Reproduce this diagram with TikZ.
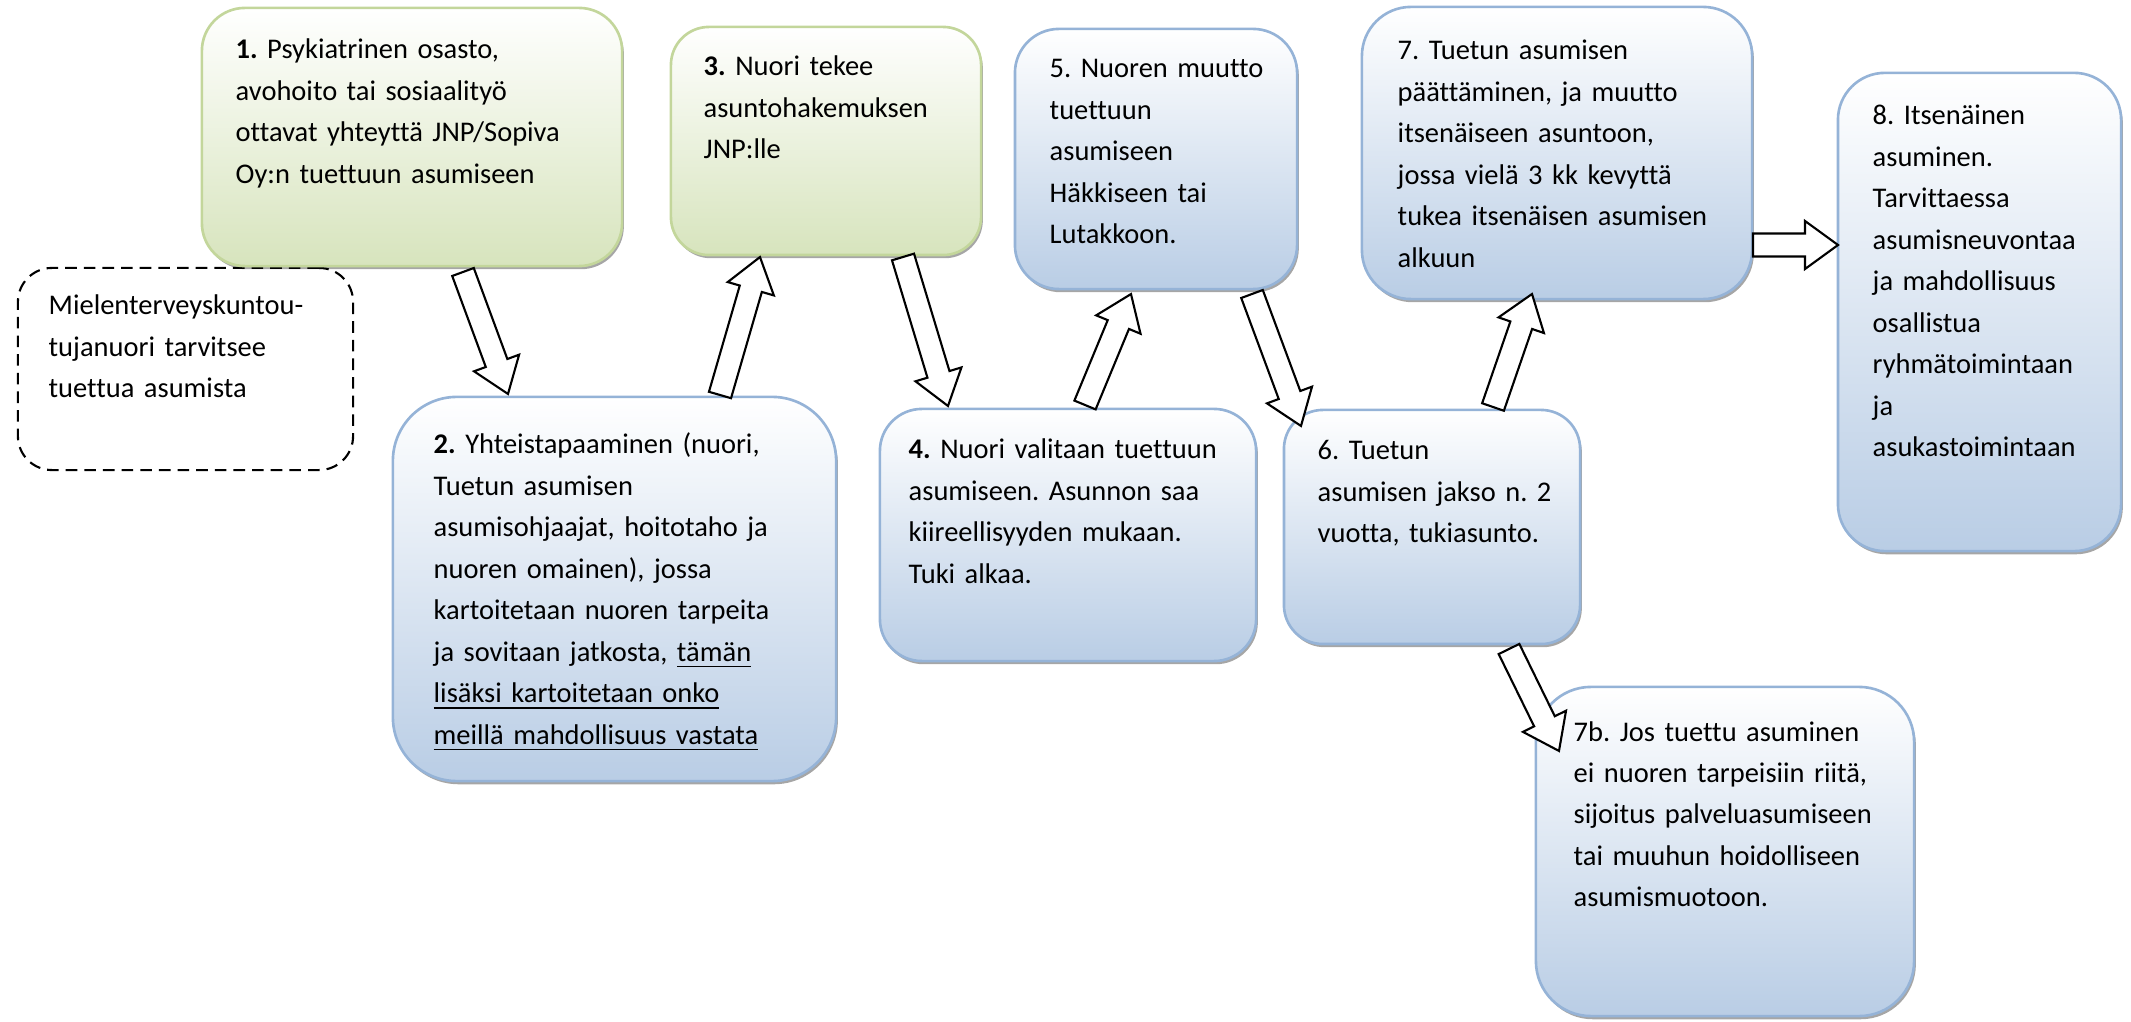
\documentclass[tikz,border=0pt]{standalone}
\usepackage{fontspec}
\setmainfont{Carlito}[Ligatures=NoCommon]
\usetikzlibrary{shadows,calc}
\definecolor{bluebot}{HTML}{B9CDE5}
\definecolor{blueline}{HTML}{95B3D7}
\definecolor{greenbot}{HTML}{D7E4BD}
\definecolor{greenline}{HTML}{C3D69B}
\newcommand\ulin[1]{\underline{#1}}
\frenchspacing
\tikzset{
 boxbase/.style={rectangle, line width=0.75pt, inner sep=0pt,
   drop shadow={shadow xshift=0.5pt, shadow yshift=-0.9pt, opacity=0.35, fill=black}},
 bluebox/.style={boxbase, draw=blueline, top color=white, bottom color=bluebot},
 greenbox/.style={boxbase, draw=greenline, top color=white, bottom color=greenbot},
 dashbox/.style={rectangle, draw=black, line width=0.6pt, dash pattern=on 3.3pt off 2pt, fill=white, inner sep=0pt},
 txt/.style={anchor=base west, inner sep=0pt, align=left, text width=6cm,
   font=\frenchspacing\fontsize{8.1pt}{11.8pt}\selectfont},
 barrow/.style={draw=black, fill=white, line width=0.6pt, line join=miter},
}
\newcommand\blockarrow[2]{%
  \path let \p1=(#1), \p2=(#2) in \pgfextra{%
    \pgfmathsetmacro\baang{atan2(\y2-\y1,\x2-\x1)}%
    \pgfmathsetmacro\balen{veclen(\x2-\x1,\y2-\y1)}%
    \pgfmathsetmacro\bahb{\balen-9.39}%
    \xdef\baang{\baang}\xdef\bahb{\bahb}\xdef\balen{\balen}};
  \begin{scope}[shift={(#1)}, rotate=\baang]
    \draw[barrow] (0pt,-3.27pt) -- (\bahb pt,-3.27pt) -- (\bahb pt,-6.83pt)
      -- (\balen pt,0pt) -- (\bahb pt,6.83pt) -- (\bahb pt,3.27pt) -- (0pt,3.27pt) -- cycle;
  \end{scope}}
\begin{document}
\begin{tikzpicture}[x=0.01cm,y=-0.01cm]
\useasboundingbox (0,0) rectangle (2131,1022);

% boxes
\node[dashbox, rounded corners=0.34cm, minimum width=3.35cm, minimum height=2.02cm] (d) at (185.5,369) {};
\node[greenbox, rounded corners=0.43cm, minimum width=4.20cm, minimum height=2.58cm] (b1) at (412,137) {};
\node[greenbox, rounded corners=0.38cm, minimum width=3.10cm, minimum height=2.28cm] (b3) at (826,141) {};
\node[bluebox, rounded corners=0.44cm, minimum width=2.82cm, minimum height=2.60cm] (b5) at (1156,159) {};
\node[bluebox, rounded corners=0.49cm, minimum width=3.90cm, minimum height=2.92cm] (b7) at (1557,153) {};
\node[bluebox, rounded corners=0.47cm, minimum width=2.83cm, minimum height=4.78cm] (b8) at (1979.5,312) {};
\node[bluebox, rounded corners=0.64cm, minimum width=4.43cm, minimum height=3.84cm] (b2) at (614.5,589) {};
\node[bluebox, rounded corners=0.42cm, minimum width=3.76cm, minimum height=2.52cm] (b4) at (1068,535) {};
\node[bluebox, rounded corners=0.39cm, minimum width=2.96cm, minimum height=2.34cm] (b6) at (1432,527) {};
\node[bluebox, rounded corners=0.55cm, minimum width=3.78cm, minimum height=3.29cm] (b7b) at (1725,851.5) {};

% texts
\node[txt] (td) at (48,315) {Mielenterveyskuntou-\\tujanuori tarvitsee\\tuettua asumista};
\node[txt] (t1) at (235,59) {\textbf{1.} Psykiatrinen osasto,\\avohoito tai sosiaalityö\\ottavat yhteyttä JNP/Sopiva\\Oy:n tuettuun asumiseen};
\node[txt] (t2) at (433,454) {\textbf{2.} Yhteistapaaminen (nuori,\\Tuetun asumisen\\asumisohjaajat, hoitotaho ja\\nuoren omainen), jossa\\kartoitetaan nuoren tarpeita\\ja sovitaan jatkosta, \ulin{tämän}\\\ulin{lisäksi kartoitetaan onko}\\\ulin{meillä mahdollisuus vastata}};
\node[txt] (t3) at (703,76) {\textbf{3.} Nuori tekee\\asuntohakemuksen\\JNP:lle};
\node[txt] (t4) at (908,459) {\textbf{4.} Nuori valitaan tuettuun\\asumiseen. Asunnon saa\\kiireellisyyden mukaan.\\Tuki alkaa.};
\node[txt] (t5) at (1049,78) {5. Nuoren muutto\\tuettuun\\asumiseen\\Häkkiseen tai\\Lutakkoon.};
\node[txt] (t6) at (1317,460) {6. Tuetun\\asumisen jakso n. 2\\vuotta, tukiasunto.};
\node[txt] (t7) at (1397,60) {7. Tuetun asumisen\\päättäminen, ja muutto\\itsenäiseen asuntoon,\\jossa vielä 3 kk kevyttä\\tukea itsenäisen asumisen\\alkuun};
\node[txt] (t7b) at (1573,741) {7b. Jos tuettu asuminen\\ei nuoren tarpeisiin riitä,\\sijoitus palveluasumiseen\\tai muuhun hoidolliseen\\asumismuotoon.};
\node[txt] (t8) at (1872,125) {8. Itsenäinen\\asuminen.\\Tarvittaessa\\asumisneuvontaa\\ja mahdollisuus\\osallistua\\ryhmätoimintaan\\ja\\asukastoimintaan};

% arrow end points
\coordinate (a12s) at (463,272);  \coordinate (a12e) at (508,394);
\coordinate (a23s) at (720,395);  \coordinate (a23e) at (760,257);
\coordinate (a34s) at (903,257);  \coordinate (a34e) at (948,406);
\coordinate (a45s) at (1085,405); \coordinate (a45e) at (1131,294);
\coordinate (a56s) at (1252,294); \coordinate (a56e) at (1301,426);
\coordinate (a67s) at (1493,407); \coordinate (a67e) at (1532,294);
\coordinate (a78s) at (1753,245); \coordinate (a78e) at (1838,245);
\coordinate (a6bs) at (1509,649); \coordinate (a6be) at (1559,751);

\blockarrow{a12s}{a12e}
\blockarrow{a23s}{a23e}
\blockarrow{a34s}{a34e}
\blockarrow{a45s}{a45e}
\blockarrow{a56s}{a56e}
\blockarrow{a67s}{a67e}
\blockarrow{a78s}{a78e}
\blockarrow{a6bs}{a6be}
\end{tikzpicture}
\end{document}
